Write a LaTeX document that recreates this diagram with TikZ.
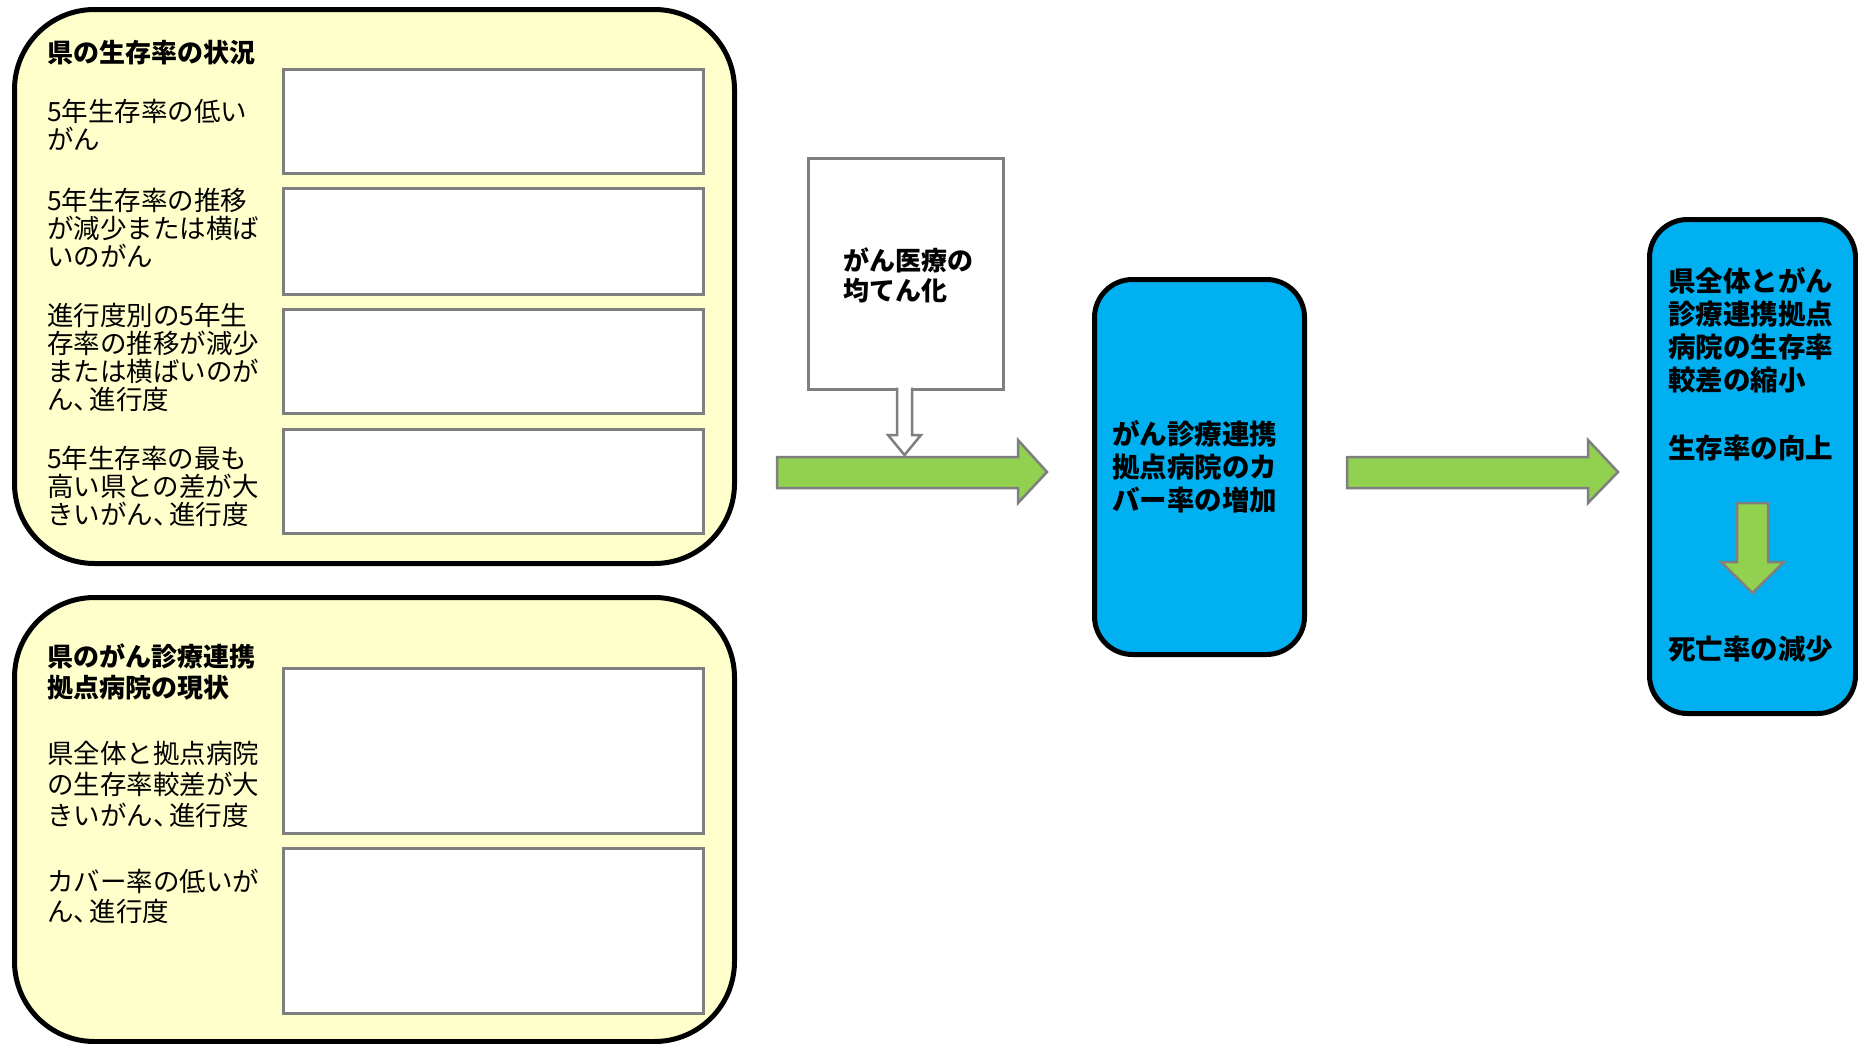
\documentclass[tikz,border=0pt]{standalone}
\usepackage{fontspec}
\setmainfont{Noto Sans CJK JP}
\definecolor{yfill}{HTML}{FFFFCC}
\definecolor{bfill}{HTML}{00B0F0}
\definecolor{gfill}{HTML}{92D050}
\definecolor{gline}{HTML}{7F7F7F}
\newcommand{\jc}{、\kern-.4em}
\begin{document}
\begin{tikzpicture}[x=1pt,y=-1pt,
  ybox/.style={draw=black, line width=5pt, fill=yfill, rounded corners=80pt, inner sep=0pt, anchor=north west},
  bbox/.style={draw=black, line width=5pt, fill=bfill, rounded corners=38pt, inner sep=0pt, anchor=north west},
  wbox/.style={draw=gline, line width=2.5pt, fill=white, inner sep=0pt, anchor=north west, minimum width=420pt},
  cbox/.style={draw=gline, line width=2.5pt, fill=white, inner sep=0pt, anchor=north west},
  lbl/.style={anchor=base west, align=left, inner sep=0pt, font=\fontsize{26.5}{27.7}\selectfont},
  ttl/.style={anchor=base west, align=left, inner sep=0pt, font=\bfseries\fontsize{26}{31}\selectfont},
  btxt/.style={anchor=base west, align=left, inner sep=0pt, font=\bfseries\fontsize{27.5}{33}\selectfont},
  garrow/.style={draw=gline, line width=2.5pt, fill=gfill, line join=miter}
]
\fill[white] (0,0) rectangle (1858,1044);
\useasboundingbox (0,0) rectangle (1858,1044);

% yellow panels
\node[ybox, minimum width=720pt, minimum height=554pt] (boxA) at (12,7) {};
\node[ybox, minimum width=720pt, minimum height=444pt] (boxB) at (12,595) {};

% white boxes
\node[wbox, minimum height=104pt] (wA1) at (282,68) {};
\node[wbox, minimum height=106pt] (wA2) at (282,187) {};
\node[wbox, minimum height=104pt] (wA3) at (282,308) {};
\node[wbox, minimum height=104pt] (wA4) at (282,428) {};
\node[wbox, minimum height=165pt] (wB1) at (282,667) {};
\node[wbox, minimum height=165pt] (wB2) at (282,847) {};

% labels (anchor = baseline of last line)
\node[ttl] (tA) at (47,62) {県の生存率の状況};
\node[lbl] (lA1) at (47,149) {5年生存率の低い\\がん};
\node[lbl] (lA2) at (47,266) {5年生存率の推移\\が減少または横ば\\いのがん};
\node[lbl] (lA3) at (47,409) {進行度別の5年生\\存率の推移が減少\\または横ばいのが\\ん\jc 進行度};
\node[lbl] (lA4) at (47,524) {5年生存率の最も\\高い県との差が大\\きいがん\jc 進行度};
\node[ttl] (tB) at (47,697) {県のがん診療連携\\拠点病院の現状};
\node[lbl, font=\fontsize{26.5}{31}\selectfont] (lB1) at (47,825) {県全体と拠点病院\\の生存率較差が大\\きいがん\jc 進行度};
\node[lbl, font=\fontsize{26.5}{30}\selectfont] (lB2) at (47,921) {カバー率の低いが\\ん\jc 進行度};

% middle white box
\node[cbox, minimum width=195pt, minimum height=231pt] (boxC) at (807,157) {};
\node[ttl, font=\bfseries\fontsize{26}{30}\selectfont] (tC) at (843,300) {がん医療の\\均てん化};

% green arrow 1
\draw[garrow] (777,457) -- (1018,457) -- (1018,440) -- (1047,472) -- (1018,503) -- (1018,488) -- (777,488) -- cycle;

% hollow arrow from boxC
\fill[white] (897,386) -- (897,435) -- (888,435) -- (904.5,455) -- (921,435) -- (912,435) -- (912,386) -- cycle;
\draw[draw=gline, line width=2.5pt, line join=miter] (897,387.5) -- (897,435) -- (888,435) -- (904.5,455) -- (921,435) -- (912,435) -- (912,387.5);

% blue box D
\node[bbox, minimum width=210pt, minimum height=375pt] (boxD) at (1092,277) {};
\node[btxt] (tD) at (1112,510) {がん診療連携\\拠点病院のカ\\バー率の増加};

% green arrow 2
\draw[garrow] (1347,457) -- (1588,457) -- (1588,440) -- (1618,472) -- (1588,503) -- (1588,488) -- (1347,488) -- cycle;

% blue box E
\node[bbox, minimum width=206pt, minimum height=494pt] (boxE) at (1647,217) {};
\node[btxt] (tE1) at (1668,390) {県全体とがん\\診療連携拠点\\病院の生存率\\較差の縮小};
\node[btxt] (tE2) at (1668,458) {生存率の向上};
\node[btxt] (tE3) at (1668,659) {死亡率の減少};

% green down arrow
\draw[garrow] (1737,503) -- (1768,503) -- (1768,562) -- (1784,562) -- (1752.5,593) -- (1721,562) -- (1737,562) -- cycle;
\end{tikzpicture}
\end{document}
